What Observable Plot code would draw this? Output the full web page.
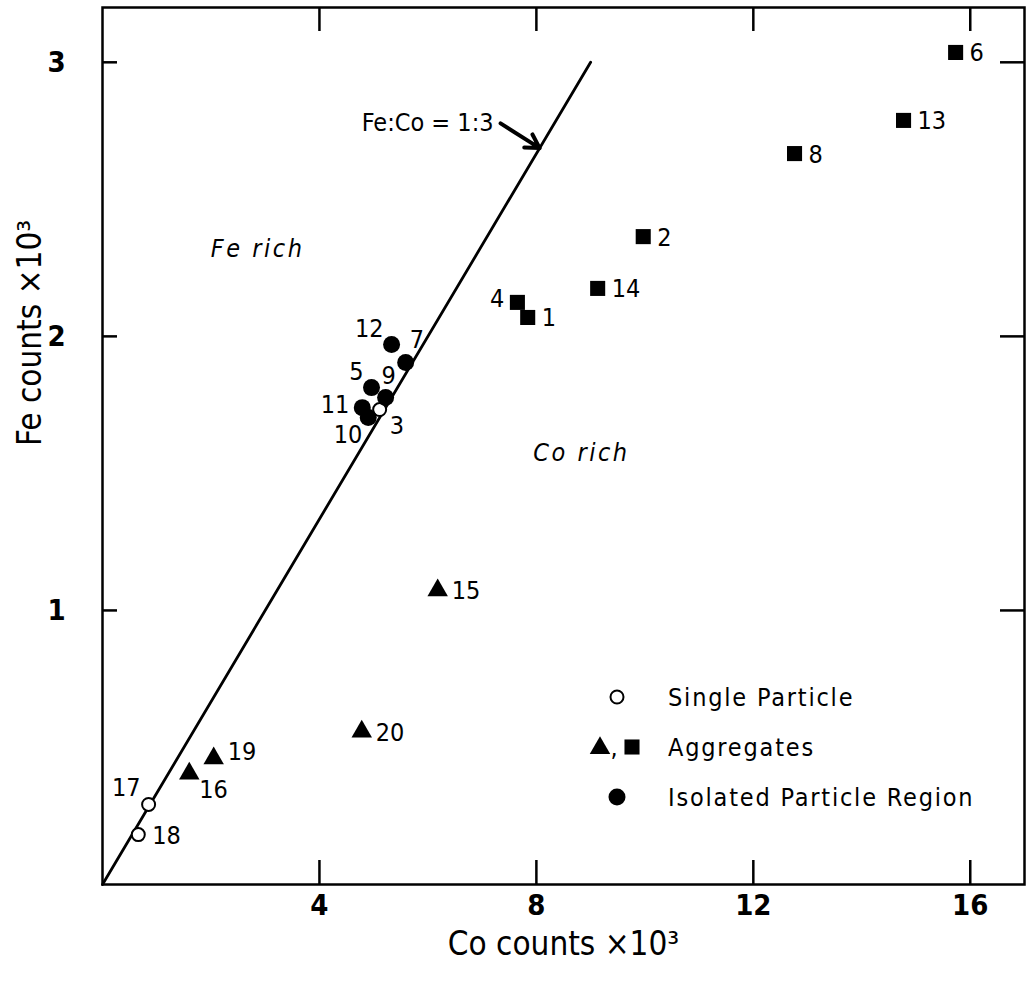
<!DOCTYPE html>
<html><head><meta charset="utf-8">
<script src="https://cdn.jsdelivr.net/npm/d3@7"></script>
<script src="https://cdn.jsdelivr.net/npm/@observablehq/plot@0.6"></script>
<style>
body{margin:0;background:#fff}
svg{display:block}
</style>
</head><body><div id="chart"></div>
<script>
// ---- data ----
const pointId   = [1, 2, 3, 4, 5, 6, 7, 8, 9, 10, 11, 12, 13, 14, 15, 16, 17, 18, 19, 20];
const coCounts  = [7.84, 9.97, 5.11, 7.65, 4.96, 15.73, 5.59, 12.76, 5.22, 4.90, 4.79, 5.33, 14.77, 9.13, 6.18, 1.60, 0.85, 0.66, 2.05, 4.78];
const feCounts  = [2.069, 2.364, 1.733, 2.124, 1.813, 3.036, 1.905, 2.667, 1.777, 1.704, 1.740, 1.970, 2.788, 2.175, 1.073, 0.405, 0.292, 0.182, 0.460, 0.558];
const pointType = ["square","square","single","square","isolated","square","isolated","square","isolated","isolated","isolated","isolated","square","square","triangle","triangle","single","single","triangle","triangle"];
const labelSide = ["E","E","SE","W","NW","E","NE","E","N","SW","W","NW","E","E","E","SE","NW","E","ENE","E"];

const ratioLineCo = [0, 9];      // Fe:Co = 1:3 line
const ratioLineFe = [0, 3];

const xTicks = [4, 8, 12, 16];
const yTicks = [1, 2, 3];

const xTitle = "Co counts ×10³";
const yTitle = "Fe counts ×10³";
const legendLabels = ["Single Particle", "Aggregates", "Isolated Particle Region"];
const regionLabels = ["Fe rich", "Co rich"];
const ratioLabel = "Fe:Co = 1:3";

// ---- build tables ----
const points = pointId.map((id, i) => ({id, co: coCounts[i], fe: feCounts[i], type: pointType[i], side: labelSide[i]}));
const ratioLine = ratioLineCo.map((c, i) => ({co: c, fe: ratioLineFe[i]}));

const W = 1031, H = 982;
const mL = 102, mR = 7, mT = 7, mB = 98;
const innerW = W - mL - mR, innerH = H - mT - mB;
const FONT = "'DejaVu Sans Condensed', 'DejaVu Sans', sans-serif";

const sides = {
  E:   {dx: 14, dy: 1, textAnchor: "start"},
  ENE: {dx: 14, dy: -6, textAnchor: "start"},
  W:   {dx: -13, dy: -3, textAnchor: "end"},
  NW:  {dx: -8, dy: -16, textAnchor: "end"},
  NE:  {dx: 4, dy: -22, textAnchor: "start"},
  N:   {dx: 3, dy: -21, textAnchor: "middle"},
  SE:  {dx: 10, dy: 16, textAnchor: "start"},
  SW:  {dx: -6, dy: 18, textAnchor: "end"}
};
const labelMarks = Object.entries(sides).map(([k, o]) =>
  Plot.text(points.filter(d => d.side === k), {
    x: "co", y: "fe", text: d => String(d.id), dx: o.dx, dy: o.dy,
    textAnchor: o.textAnchor, fontSize: 25, fontFamily: FONT, fill: "black"
  })
);

const plot = Plot.plot({
  width: W, height: H,
  marginLeft: mL, marginRight: mR, marginTop: mT, marginBottom: mB,
  style: {fontFamily: FONT, background: "white", color: "black"},
  x: {domain: [0, 17], axis: null},
  y: {domain: [0, 3.2], axis: null},
  marks: [
    Plot.frame({stroke: "black", strokeWidth: 2.5}),
    // inward ticks on all four sides
    Plot.tickX(xTicks, {x: d => d, insetTop: innerH - 24, stroke: "black", strokeWidth: 2.5}),
    Plot.tickX(xTicks, {x: d => d, insetBottom: innerH - 24, stroke: "black", strokeWidth: 2.5}),
    Plot.tickY(yTicks, {y: d => d, insetRight: innerW - 15, stroke: "black", strokeWidth: 2.5}),
    Plot.tickY(yTicks, {y: d => d, insetLeft: innerW - 24, stroke: "black", strokeWidth: 2.5}),
    // tick labels
    Plot.text(xTicks, {x: d => d, frameAnchor: "bottom", dy: 30, text: d => String(d), fontSize: 29, fontWeight: "bold", fontFamily: FONT}),
    Plot.text(yTicks, {y: d => d, frameAnchor: "left", dx: -55, text: d => String(d), fontSize: 29, fontWeight: "bold", fontFamily: FONT}),
    // axis titles
    Plot.text([xTitle], {frameAnchor: "bottom", dy: 70, text: d => d, fontSize: 33, fontFamily: FONT}),
    Plot.text([yTitle], {frameAnchor: "left", dx: -72, rotate: -90, text: d => d, fontSize: 33, fontFamily: FONT}),
    // ratio line
    Plot.line(ratioLine, {x: "co", y: "fe", stroke: "black", strokeWidth: 2.8}),
    // points
    Plot.dot(points.filter(d => d.type === "single"), {x: "co", y: "fe", r: 6.5, fill: "white", stroke: "black", strokeWidth: 2}),
    Plot.dot(points.filter(d => d.type === "isolated"), {x: "co", y: "fe", r: 8.5, fill: "black"}),
    Plot.dot(points.filter(d => d.type === "square"), {x: "co", y: "fe", r: 8.5, symbol: "square", fill: "black"}),
    Plot.dot(points.filter(d => d.type === "triangle"), {x: "co", y: "fe", r: 7.6, symbol: "triangle", fill: "black"}),
    ...labelMarks,
    // annotations
    Plot.text([regionLabels[0]], {x: 2.86, y: 2.32, text: d => d, fontSize: 25, fontStyle: "italic", fontFamily: FONT, style: {letterSpacing: "2.5px"}}),
    Plot.text([regionLabels[1]], {x: 8.83, y: 1.576, text: d => d, fontSize: 25, fontStyle: "italic", fontFamily: FONT}),
    Plot.text([ratioLabel], {x: 7.21, y: 2.777, text: d => d, textAnchor: "end", fontSize: 25, fontFamily: FONT}),
    Plot.arrow([0], {x1: 7.34, y1: 2.777, x2: 8.06, y2: 2.687, stroke: "black", strokeWidth: 4, headLength: 14, bend: 0})
  ]
});
document.getElementById("chart").appendChild(plot);

// wider letter spacing on region labels (as in the original lettering)
d3.select(plot).selectAll("text").filter(function() {
  return regionLabels.includes(this.textContent);
}).attr("letter-spacing", "2.5px");

// ---- legend (inside plot, lower right) ----
const svg = d3.select(plot);
const lg = svg.append("g").attr("font-family", FONT).attr("font-size", 25).attr("text-anchor", "start").attr("fill", "black");
const lx = 668, ly = [697, 747, 797];
lg.append("circle").attr("cx", 617).attr("cy", ly[0]).attr("r", 6.5).attr("fill", "white").attr("stroke", "black").attr("stroke-width", 2);
lg.append("path").attr("d", d3.symbol(d3.symbolTriangle, Math.PI * 7.6 * 7.6)()).attr("transform", `translate(600,${ly[1] + 1})`).attr("fill", "black");
lg.append("text").attr("x", 614).attr("y", ly[1] + 9).attr("text-anchor", "middle").text(",");
lg.append("path").attr("d", d3.symbol(d3.symbolSquare, Math.PI * 8.5 * 8.5)()).attr("transform", `translate(632,${ly[1]})`).attr("fill", "black");
lg.append("circle").attr("cx", 617).attr("cy", ly[2]).attr("r", 8.5).attr("fill", "black");
legendLabels.forEach((t, i) => {
  lg.append("text").attr("x", lx).attr("y", ly[i]).attr("dy", "0.35em").attr("text-anchor", "start").attr("letter-spacing", "1.8px").text(t);
});
</script>
</body></html>
